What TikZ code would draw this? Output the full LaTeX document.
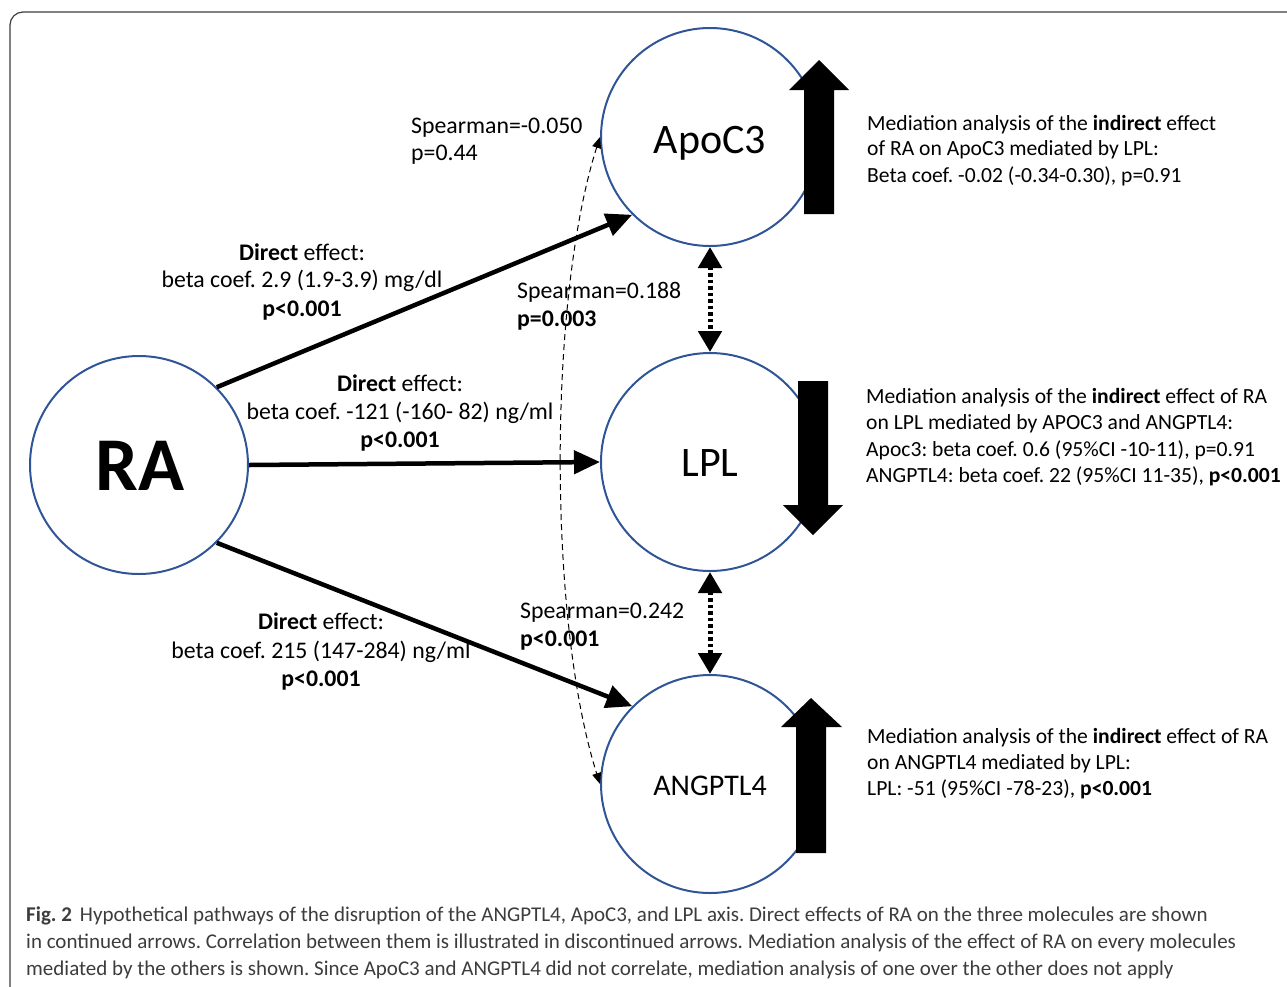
\documentclass[tikz,border=0pt]{standalone}
\usepackage{fontspec}
\setmainfont{Carlito}
\usetikzlibrary{arrows.meta}
\definecolor{cblue}{RGB}{47,85,151}
\definecolor{capgray}{RGB}{60,60,60}
\frenchspacing
\begin{document}
\frenchspacing
\begin{tikzpicture}[x=1pt,y=-1pt,
  mol/.style={circle,draw=cblue,line width=2pt,minimum size=218pt,inner sep=0pt},
  lbl/.style={font=\fontsize{23.8}{27}\selectfont,inner sep=0pt},
  lblL/.style={lbl,anchor=base west},
  lblC/.style={lbl,anchor=base},
  med/.style={font=\fontsize{21.6}{26}\selectfont,inner sep=0pt,anchor=base west},
  captxt/.style={font=\fontsize{21}{27}\selectfont,text=capgray,inner sep=0pt,anchor=base west},
  direct/.style={line width=4.5pt,-{Triangle[length=26pt,width=23pt]}},
  corr/.style={line width=5pt,dash pattern=on 3.5pt off 3pt,{Triangle[length=21pt,width=23pt]}-{Triangle[length=21pt,width=23pt]}},
  weak/.style={line width=1pt,dash pattern=on 6pt off 4pt,{Triangle[length=11pt,width=9pt]}-{Triangle[length=11pt,width=9pt]}},
  blockarrow/.style={fill=black}
]
\useasboundingbox (0,0) rectangle (1287,986);
\begin{scope}
\clip (0,0) rectangle (1287,986);
\draw[capgray,line width=1.2pt,rounded corners=13pt] (10,12) rectangle (1320,1020);
\end{scope}

% molecules
\node[mol] (RA) at (139,465) {};
\node[mol] (ApoC3) at (710,137) {};
\node[mol] (LPL) at (710,462) {};
\node[mol] (ANG) at (710,784) {};

\node[font=\fontsize{76}{80}\selectfont\bfseries,inner sep=0pt,anchor=base] (RAt) at (140,490) {RA};
\node[font=\fontsize{42}{44}\selectfont,inner sep=0pt,anchor=base] (ApoC3t) at (710,153) {ApoC3};
\node[font=\fontsize{42}{44}\selectfont,inner sep=0pt,anchor=base] (LPLt) at (710,476) {LPL};
\node[font=\fontsize{30}{32}\selectfont,inner sep=0pt,anchor=base] (ANGt) at (710,795) {ANGPTL4};

% block arrows
\fill[blockarrow] (804,214) -- (804,90) -- (789,90) -- (819,60) -- (849,90) -- (834,90) -- (834,214) -- cycle;
\fill[blockarrow] (798,381) -- (828,381) -- (828,505) -- (843,505) -- (813,535) -- (783,505) -- (798,505) -- cycle;
\fill[blockarrow] (796,853) -- (796,727) -- (781,727) -- (811,698) -- (842,727) -- (826,727) -- (826,853) -- cycle;

% direct effects
\draw[direct] (RA.45) -- (ApoC3.225);
\draw[direct] (RA.0) -- (LPL.180);
\draw[direct] (RA.-45) -- (ANG.135);

% correlations
\draw[corr] (ApoC3.south) -- (LPL.north);
\draw[corr] (LPL.south) -- (ANG.north);
\draw[weak] (ApoC3.west) .. controls (548,300) and (548,620) .. (ANG.west);

% labels
\node[lblL] (s1a) at (411,133) {Spearman=-0.050};
\node[lblL] (s1b) at (411,160) {p=0.44};
\node[lblL] (s2a) at (517,298) {Spearman=0.188};
\node[lblL] (s2b) at (517,326) {\bfseries p=0.003};
\node[lblL] (s3a) at (520,618) {Spearman=0.242};
\node[lblL] (s3b) at (520,646) {\bfseries p<0.001};

\node[lblC] (d1a) at (302,260) {\bfseries Direct\mdseries{} effect:};
\node[lblC] (d1b) at (302,287) {beta coef. 2.9 (1.9-3.9) mg/dl};
\node[lblC] (d1c) at (302,316) {\bfseries p<0.001};
\node[lblC] (d2a) at (400,391) {\bfseries Direct\mdseries{} effect:};
\node[lblC] (d2b) at (400,419) {beta coef. -121 (-160- 82) ng/ml};
\node[lblC] (d2c) at (400,447) {\bfseries p<0.001};
\node[lblC] (d3a) at (321,629) {\bfseries Direct\mdseries{} effect:};
\node[lblC] (d3b) at (321,658) {beta coef. 215 (147-284) ng/ml};
\node[lblC] (d3c) at (321,686) {\bfseries p<0.001};

% mediation texts
\node[med] (m1a) at (867,130) {Mediation analysis of the \textbf{indirect} effect};
\node[med] (m1b) at (867,155) {of RA on ApoC3 mediated by LPL:};
\node[med] (m1c) at (867,182) {Beta coef. -0.02 (-0.34-0.30), p=0.91};
\node[med] (m2a) at (866,403) {Mediation analysis of the \textbf{indirect} effect of RA};
\node[med] (m2b) at (866,429) {on LPL mediated by APOC3 and ANGPTL4:};
\node[med] (m2c) at (866,456) {Apoc3: beta coef. 0.6 (95\%CI -10-11), p=0.91};
\node[med] (m2d) at (866,482) {ANGPTL4: beta coef. 22 (95\%CI 11-35), \textbf{p<0.001}};
\node[med] (m3a) at (867,743) {Mediation analysis of the \textbf{indirect} effect of RA};
\node[med] (m3b) at (867,769) {on ANGPTL4 mediated by LPL:};
\node[med] (m3c) at (867,795) {LPL: -51 (95\%CI -78-23), \textbf{p<0.001}};

% caption
\node[captxt] (c1) at (26,921) {\textbf{Fig.~2}\hspace{8pt}Hypothetical pathways of the disruption of the ANGPTL4, ApoC3, and LPL axis. Direct effects of RA on the three molecules are shown};
\node[captxt] (c2) at (26,948) {in continued arrows. Correlation between them is illustrated in discontinued arrows. Mediation analysis of the effect of RA on every molecules};
\node[captxt] (c3) at (26,975) {mediated by the others is shown. Since ApoC3 and ANGPTL4 did not correlate, mediation analysis of one over the other does not apply};
\end{tikzpicture}
\end{document}
